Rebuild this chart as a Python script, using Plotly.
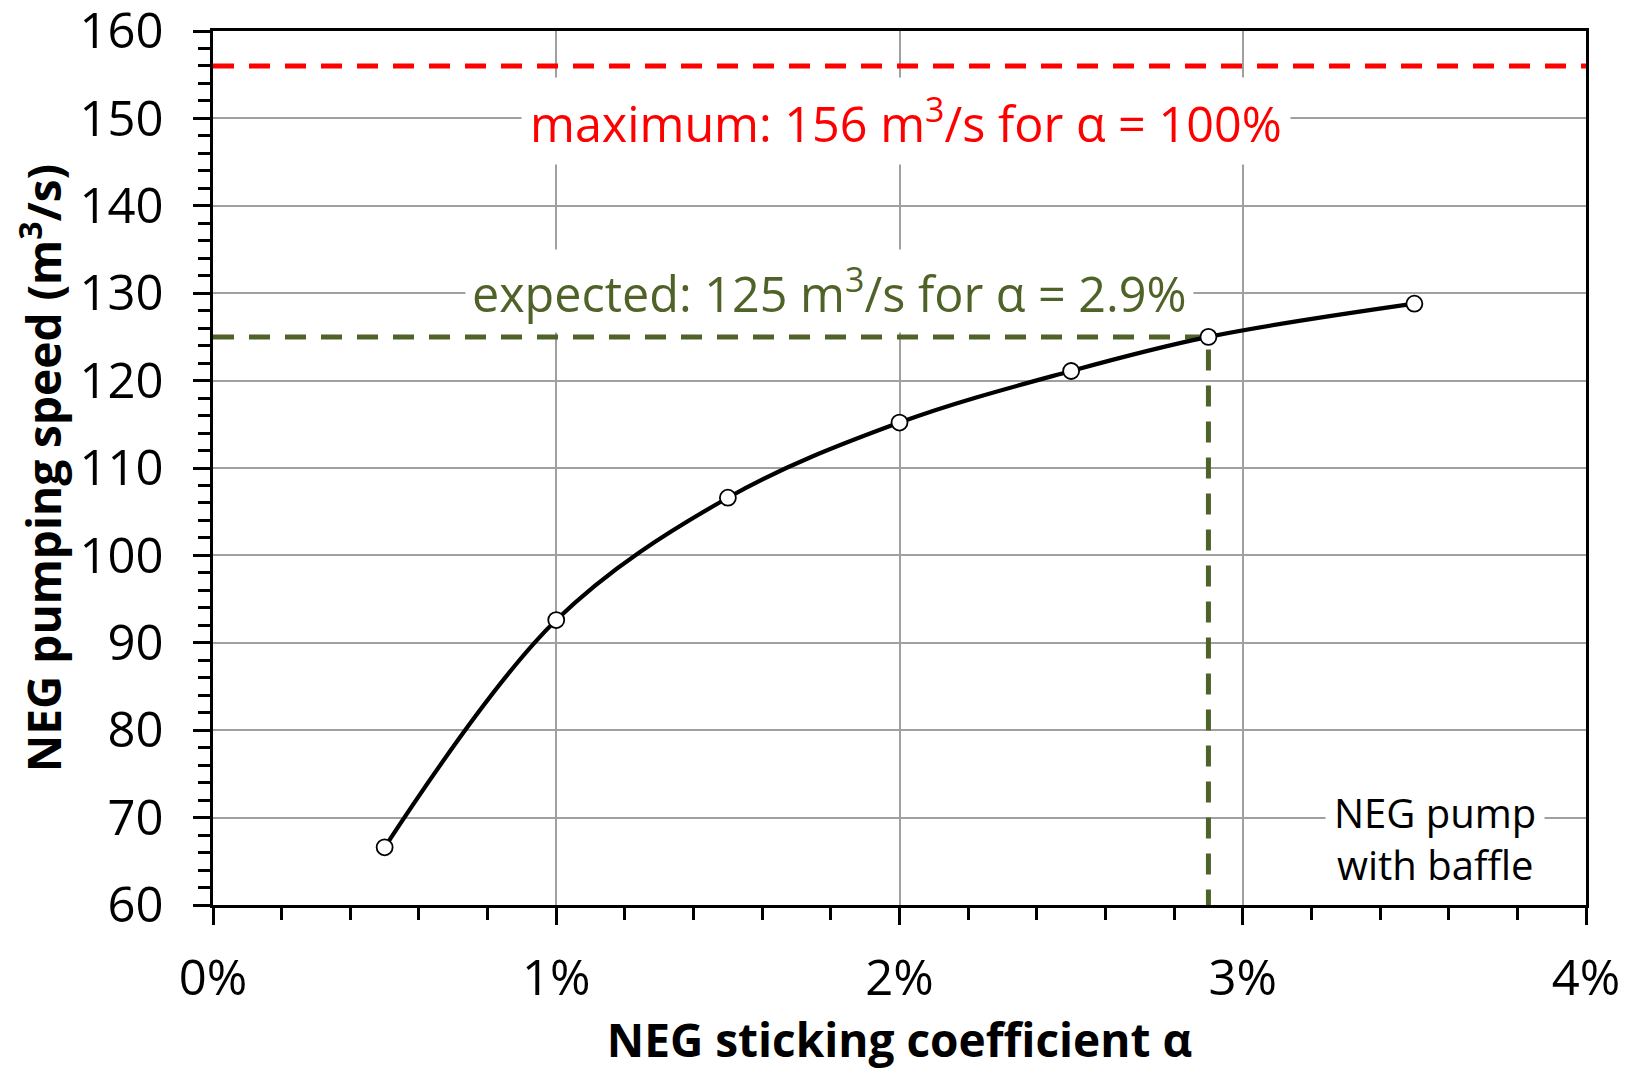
import plotly.graph_objects as go

# ---- data ----
alpha_pct = [0.5, 1.0, 1.5, 2.0, 2.5, 2.9, 3.5]
pumping_speed = [66.6, 92.6, 106.6, 115.2, 121.1, 125.0, 128.8]

max_speed = 156
expected_alpha = 2.9
expected_speed = 125

x_tickvals = [0, 1, 2, 3, 4]
x_ticktext = ["0%", "1%", "2%", "3%", "4%"]
y_tickvals = [60, 70, 80, 90, 100, 110, 120, 130, 140, 150, 160]

x_range = [0, 4]
y_range = [60, 160]

FONT = "Open Sans"
RED = "#FF0000"
GREEN = "#4F6228"
GRID = "#a0a0a0"

fig = go.Figure()

# red dashed maximum line
fig.add_trace(go.Scatter(
    x=x_range, y=[max_speed, max_speed], mode="lines",
    line=dict(color=RED, width=5, dash="21px,15px"),
    hoverinfo="skip", showlegend=False))

# green dashed expected lines
fig.add_trace(go.Scatter(
    x=[x_range[0], expected_alpha, expected_alpha],
    y=[expected_speed, expected_speed, y_range[0]], mode="lines",
    line=dict(color=GREEN, width=5, dash="21px,15px"),
    hoverinfo="skip", showlegend=False))

# main curve
fig.add_trace(go.Scatter(
    x=alpha_pct, y=pumping_speed, mode="lines+markers",
    line=dict(color="black", width=4.2, shape="spline", smoothing=1.0),
    marker=dict(size=16, color="white", line=dict(color="black", width=1.8)),
    showlegend=False))

axis_common = dict(
    showline=True, linecolor="black", linewidth=2.5, mirror=True,
    showgrid=True, gridcolor=GRID, gridwidth=1.6,
    ticks="outside", ticklen=17, tickwidth=2.5, tickcolor="black",
    tickfont=dict(family=FONT, size=49, color="black"),
    zeroline=False, automargin=False, ticklabeloverflow="allow",
)

fig.update_xaxes(
    range=x_range,
    tickvals=x_tickvals, ticktext=x_ticktext,
    minor=dict(dtick=0.2, ticks="outside", ticklen=12, tickwidth=2.5,
               tickcolor="black", showgrid=False),
    ticklabelstandoff=11,
    title=dict(text="<b>NEG sticking coefficient α</b>",
               font=dict(family=FONT, size=46, color="black"), standoff=16),
    **axis_common)

fig.update_yaxes(
    range=y_range, tickvals=y_tickvals,
    minor=dict(dtick=2, ticks="outside", ticklen=12, tickwidth=2.5,
               tickcolor="black", showgrid=False),
    ticklabelstandoff=20,
    title=dict(text="<b>NEG pumping speed (m<sup>3</sup>/s)</b>",
               font=dict(family=FONT, size=46, color="black"), standoff=31),
    **axis_common)

fig.add_annotation(
    x=2.02, y=149.7, xref="x", yref="y",
    text="maximum: 156 m<sup>3</sup>/s for α = 100%",
    showarrow=False, font=dict(family=FONT, size=48.5, color=RED),
    bgcolor="white", borderpad=8)

fig.add_annotation(
    x=1.795, y=130.3, xref="x", yref="y",
    text="expected: 125 m<sup>3</sup>/s for α = 2.9%",
    showarrow=False, font=dict(family=FONT, size=48.5, color=GREEN),
    bgcolor="white", borderpad=6)

fig.add_annotation(
    x=3.56, y=67.6, xref="x", yref="y",
    text="NEG pump<br>with baffle",
    showarrow=False, font=dict(family=FONT, size=40, color="black"),
    bgcolor="white", borderpad=8, align="center")

# page body adds an 8px margin, so the figure is drawn 8px in from the corner
fig.update_layout(
    width=1623, height=1062,
    margin=dict(l=205, r=45, t=23, b=165),
    paper_bgcolor="white", plot_bgcolor="white",
    font=dict(family=FONT, color="black"),
)

fig.write_html("out.html")
